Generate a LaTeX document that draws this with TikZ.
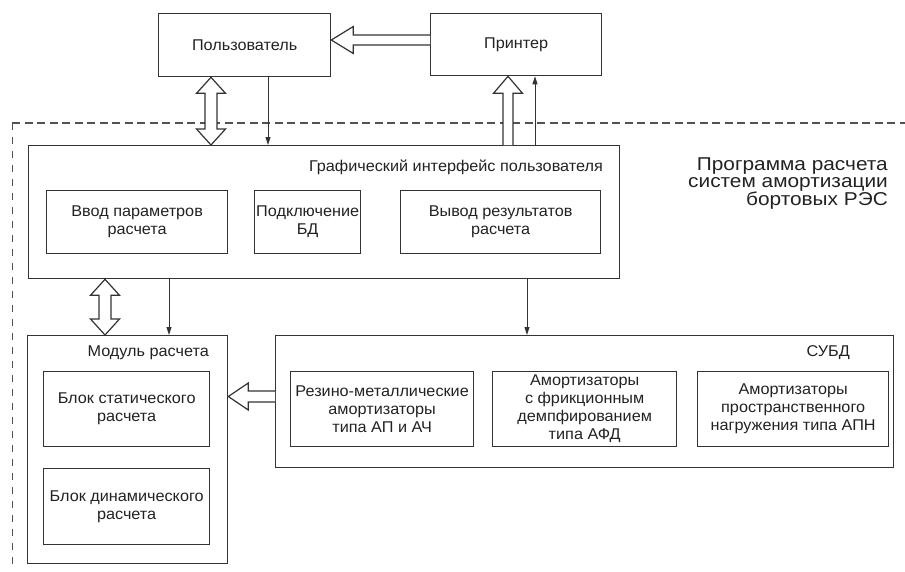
\documentclass[tikz,border=0pt]{standalone}
\usepackage{fontspec}
\setmainfont{Liberation Sans}
\newfontfamily\titlefont[FakeStretch=1.12]{Liberation Sans}
\newfontfamily\boxfont[FakeStretch=1.04]{Liberation Sans}
\usetikzlibrary{calc,arrows.meta}
\definecolor{ln}{HTML}{333333}
\definecolor{tx}{HTML}{222222}
\newcommand\blockarrow[5]{%
  \path ($(#2)!#5!(#1)$) coordinate (ba-h);
  \draw[hollow] ($(#1)!#3!90:(#2)$) -- ($(ba-h)!#3!90:(#2)$) -- ($(ba-h)!#4!90:(#2)$) -- (#2)
    -- ($(ba-h)!#4!-90:(#2)$) -- ($(ba-h)!#3!-90:(#2)$) -- ($(#1)!#3!-90:(#2)$);
}
\newcommand\dblblockarrow[5]{%
  \path ($(#2)!#5!(#1)$) coordinate (ba-h) ($(#1)!#5!(#2)$) coordinate (ba-g);
  \draw[hollow] (#1) -- ($(ba-g)!#4!90:(#2)$) -- ($(ba-g)!#3!90:(#2)$) -- ($(ba-h)!#3!90:(#2)$)
    -- ($(ba-h)!#4!90:(#2)$) -- (#2) -- ($(ba-h)!#4!-90:(#2)$) -- ($(ba-h)!#3!-90:(#2)$)
    -- ($(ba-g)!#3!-90:(#2)$) -- ($(ba-g)!#4!-90:(#2)$) -- cycle;
}
\tikzset{
  box/.style={draw=ln, line width=1.3pt, inner sep=1pt, anchor=north west, align=center,
    text=tx, font=\boxfont\fontsize{15.6}{18}\selectfont},
  lbl/.style={anchor=east, inner sep=0pt, text=tx, font=\boxfont\fontsize{15.6}{18}\selectfont},
  hollow/.style={draw=ln, line width=1.2pt, fill=white, line join=miter},
  thinarrow/.style={draw=ln, line width=1pt, -{Triangle[length=8pt,width=5pt]}},
}
\begin{document}
\begin{tikzpicture}[x=1pt,y=-1pt]
\useasboundingbox (0,0) rectangle (905,571);
% dashed program boundary
\coordinate (dc) at (12,123);
\coordinate (dr) at (905,123);
\coordinate (db0) at (12,571);
\draw[color=ln!85, line width=2pt, dash pattern=on 8pt off 4.5pt] (dc) -- (dr);
\draw[color=ln!85, line width=1pt, dash pattern=on 7pt off 7pt] (dc) -- (db0);
% top boxes
\node[box, minimum width=172pt, minimum height=63pt] (user) at (158,13) {Пользователь};
\node[box, minimum width=171pt, minimum height=62pt] (printer) at (430,13) {Принтер};
% GUI
\node[box, minimum width=591pt, minimum height=133pt] (gui) at (28,145) {};
\node[lbl] (guil) at (603,167) {Графический интерфейс пользователя};
\node[box, minimum width=181pt, minimum height=63pt] (inp) at (46,190) {Ввод параметров\\расчета};
\node[box, minimum width=106pt, minimum height=63pt] (bd) at (254,190) {Подключение\\БД};
\node[box, minimum width=200pt, minimum height=63pt] (outp) at (400,190) {Вывод результатов\\расчета};
% title
\node[anchor=north east, inner sep=0pt, align=right, text=tx, font=\titlefont\fontsize{18.6}{17.8}\selectfont] (title) at (888,157)
  {Программа расчета\\систем амортизации\\бортовых РЭС};
% module
\node[box, minimum width=200pt, minimum height=228pt] (mod) at (27,335) {};
\node[lbl] (modl) at (209,353) {Модуль расчета};
\node[box, minimum width=166pt, minimum height=75pt] (stat) at (43,371) {Блок статического\\расчета};
\node[box, minimum width=166pt, minimum height=76pt] (dyn) at (43,468) {Блок динамического\\расчета};
% DBMS
\node[box, minimum width=618pt, minimum height=132pt] (db) at (275,335) {};
\node[lbl] (dbl) at (850,353) {СУБД};
\node[box, minimum width=183pt, minimum height=75pt] (rm) at (290,371) {Резино-металлические\\амортизаторы\\типа АП и АЧ};
\node[box, minimum width=184pt, minimum height=75pt] (afd) at (492,371) {Амортизаторы\\с фрикционным\\демпфированием\\типа АФД};
\node[box, minimum width=191pt, minimum height=75pt] (apn) at (697,371) {Амортизаторы\\пространственного\\нагружения типа АПН};
% hollow arrows
\coordinate (pu-a) at (printer.west |- 0,40);
\coordinate (pu-b) at (user.east |- 0,40);
\blockarrow{pu-a}{pu-b}{5pt}{13.5pt}{22pt}
\coordinate (ug-a) at (211,0 |- user.south);
\coordinate (ug-b) at (211,0 |- gui.north);
\dblblockarrow{ug-a}{ug-b}{6pt}{14.5pt}{16pt}
\coordinate (gp-a) at (508,0 |- gui.north);
\coordinate (gp-b) at (508,0 |- printer.south);
\blockarrow{gp-a}{gp-b}{5pt}{14.5pt}{17pt}
\coordinate (gm-a) at (105,0 |- gui.south);
\coordinate (gm-b) at (105,0 |- mod.north);
\dblblockarrow{gm-a}{gm-b}{6pt}{14.5pt}{16pt}
\coordinate (dm-a) at (db.west |- 0,396.5);
\coordinate (dm-b) at (mod.east |- 0,396.5);
\blockarrow{dm-a}{dm-b}{5.5pt}{13.5pt}{20pt}
% thin arrows
\draw[thinarrow] (268,0 |- user.south) -- (268,0 |- gui.north);
\draw[thinarrow] (535,0 |- gui.north) -- (535,0 |- printer.south);
\draw[thinarrow] (169,0 |- gui.south) -- (169,0 |- mod.north);
\draw[thinarrow] (527,0 |- gui.south) -- (527,0 |- db.north);
\end{tikzpicture}
\end{document}
